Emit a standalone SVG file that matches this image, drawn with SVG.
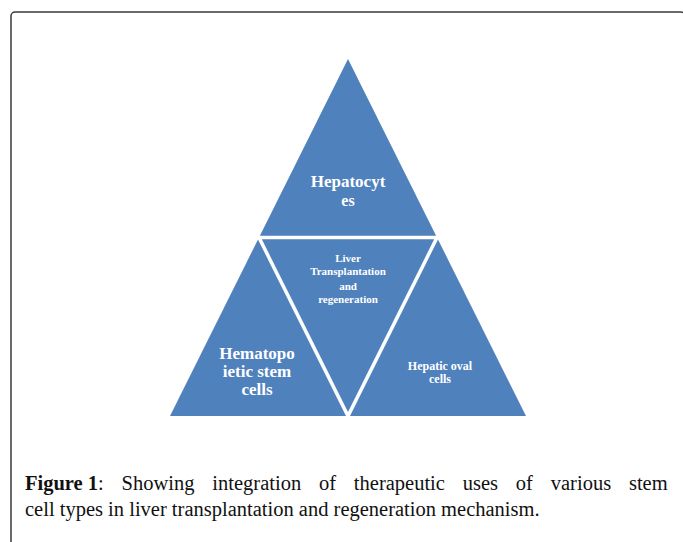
<svg xmlns="http://www.w3.org/2000/svg" width="683" height="542" viewBox="0 0 683 542">
<style>
.tri{fill:#4F81BD}
.lbl{font-family:"Liberation Serif","Times New Roman",serif;font-weight:bold;fill:#ffffff;text-anchor:middle}
.cap{font-family:"Liberation Serif","Times New Roman",serif;font-size:20.5px;fill:#111111}
</style>
<rect x="11" y="12" width="674" height="545" rx="4" ry="4" fill="#ffffff" stroke="#3a3a3a" stroke-width="1.5"/>
<g id="connectors"></g>
<g id="hepatocytes">
<polygon class="tri" points="348,59 259.9,235.75 436.1,235.75"/>
<text class="lbl" font-size="17" x="348" y="187">Hepatocyt</text>
<text class="lbl" font-size="16" x="348" y="206">es</text>
</g>
<g id="liver">
<polygon class="tri" points="261.8,239.25 434.2,239.25 348,412"/>
<text class="lbl" font-size="11" x="348" y="262">Liver</text>
<text class="lbl" font-size="11" x="348" y="274.5">Transplantation</text>
<text class="lbl" font-size="11" x="348" y="290">and</text>
<text class="lbl" font-size="11" x="348" y="302.5">regeneration</text>
</g>
<g id="hematopoietic">
<polygon class="tri" points="258,239.5 170,416 346,416"/>
<text class="lbl" font-size="17" x="257" y="359">Hematopo</text>
<text class="lbl" font-size="17" x="257" y="377">ietic stem</text>
<text class="lbl" font-size="17" x="257" y="395">cells</text>
</g>
<g id="oval">
<polygon class="tri" points="438,239.5 350,416 526,416"/>
<text class="lbl" font-size="12" x="440" y="370">Hepatic oval</text>
<text class="lbl" font-size="12" x="440" y="383">cells</text>
</g>
<g id="caption">
<text class="cap" x="25" y="490"><tspan font-weight="bold">Figure 1</tspan><tspan word-spacing="12.7">: Showing integration of therapeutic uses of various stem</tspan></text>
<text class="cap" x="25" y="516">cell types in liver transplantation and regeneration mechanism.</text>
</g>
</svg>
